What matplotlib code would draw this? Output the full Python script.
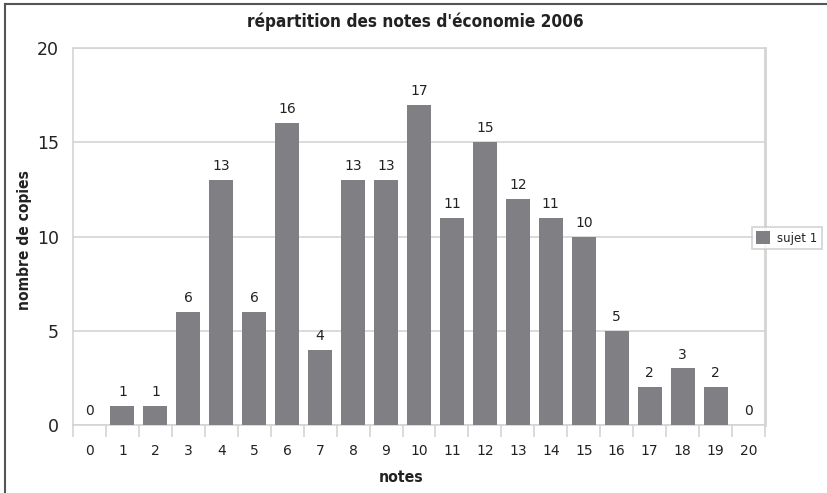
import matplotlib
matplotlib.use("Agg")
import matplotlib.pyplot as plt
from matplotlib.lines import Line2D
from matplotlib import font_manager

categories = [str(i) for i in range(21)]
values = [0, 1, 1, 6, 13, 6, 16, 4, 13, 13, 17, 11, 15, 12, 11, 10, 5, 2, 3, 2, 0]
series_name = "sujet 1"
title = "répartition des notes d'économie 2006"
xlabel = "notes"
ylabel = "nombre de copies"
yticks = [0, 5, 10, 15, 20]

bar_color = "#808084"
grid_color = "#d4d4d4"

# pick a condensed bold font if available
cond_file = None
for f in font_manager.fontManager.ttflist:
    if "DejaVu Sans" in f.name and f.stretch in ("condensed", "semi-condensed", 400) and f.weight in ("bold", 700) \
            and "Condensed" in f.fname and "Oblique" not in f.fname:
        cond_file = f.fname
        break
if cond_file is None:
    for f in font_manager.fontManager.ttflist:
        if "Condensed" in f.fname and "Bold" in f.fname and "Oblique" not in f.fname and "Italic" not in f.fname:
            cond_file = f.fname
            break


def bold(size):
    if cond_file:
        return dict(fontproperties=font_manager.FontProperties(fname=cond_file, size=size))
    return dict(family="Liberation Sans", fontweight="bold", fontsize=size)


fig = plt.figure(figsize=(8.28, 4.93), dpi=100)
ax = fig.add_axes([73/828, 1-425/493, (765-73)/828, (425-48)/493])

x = list(range(len(categories)))
bars = ax.bar(x, values, width=0.73, color=bar_color, label=series_name, zorder=3)
ax.set_xlim(-0.5, len(categories) - 0.5)
ax.set_ylim(0, 20)

for xi, v in zip(x, values):
    ax.annotate(str(v), (xi, v), xytext=(0, 5), textcoords="offset points",
                ha="center", va="bottom", fontsize=10, color="#222222",
                family="DejaVu Sans")

ax.set_yticks(yticks)
ax.set_yticklabels([str(t) for t in yticks], fontsize=12.5, color="#222222")
ax.tick_params(axis="y", length=0, pad=10)
ax.yaxis.grid(True, color=grid_color, linewidth=1.2, zorder=0)

ax.set_xticks(x)
ax.set_xticklabels(categories, fontsize=10, color="#222222")
ax.tick_params(axis="x", which="major", length=0, pad=14)
ax.set_xticks([i - 0.5 for i in range(len(categories) + 1)], minor=True)
ax.tick_params(axis="x", which="minor", length=8.5, color=grid_color, width=1.2, direction="out")

for side in ["left", "right", "top", "bottom"]:
    ax.spines[side].set_color(grid_color)
    ax.spines[side].set_linewidth(1.2)
ax.spines["right"].set_linewidth(2)

fig.text(415/828, 1-22/493, title, ha="center", va="center", color="#222222", **bold(12.3))
fig.text(401/828, 1-477/493, xlabel, ha="center", va="center", color="#222222", **bold(11.3))
fig.text(25/828, 1-240/493, ylabel, ha="center", va="center", color="#222222",
         rotation=90, **bold(11.2))

leg = fig.legend(handles=[bars], labels=[series_name], loc="center",
                 bbox_to_anchor=(787/828, 1-238/493), frameon=True, fontsize=8.5,
                 fancybox=False, handlelength=1.2, handleheight=1.2,
                 borderpad=0.4, handletextpad=0.6, borderaxespad=0)
leg.get_frame().set_edgecolor("#c8c8c8")
leg.get_frame().set_linewidth(1.2)
for t in leg.get_texts():
    t.set_color("#222222")

# outer frame (left and top visible)
fig.add_artist(Line2D([5/828, 5/828], [0, 1-4/493], transform=fig.transFigure,
                      color="#555555", linewidth=1.5))
fig.add_artist(Line2D([5/828, 1], [1-4/493, 1-4/493], transform=fig.transFigure,
                      color="#555555", linewidth=1.5))

fig.savefig("out.png", dpi=100)
